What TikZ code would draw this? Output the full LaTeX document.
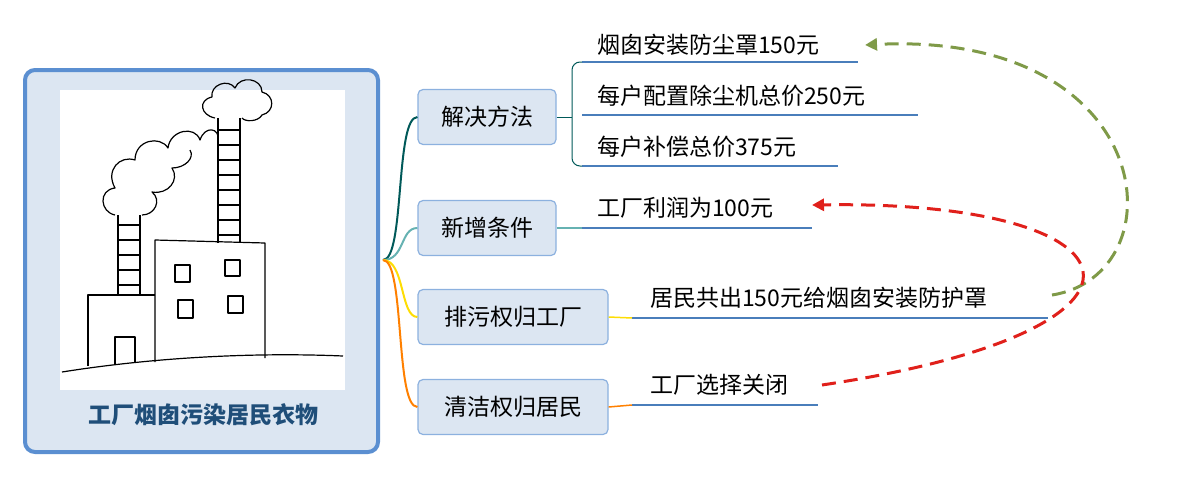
\documentclass[tikz,border=0pt]{standalone}
\usepackage{fontspec}
\setmainfont{Noto Sans CJK SC}
\usetikzlibrary{arrows.meta}
\definecolor{boxfill}{HTML}{DCE6F2}
\definecolor{boxline}{HTML}{5B8FD1}
\definecolor{subline}{HTML}{4A7EBB}
\definecolor{title}{HTML}{1F4E79}
\definecolor{dgreen}{HTML}{7F9A48}
\definecolor{dred}{HTML}{E0201B}
\tikzset{
 branch/.style={draw=boxline!70,fill=boxfill,rounded corners=5pt,line width=1.2pt,minimum height=55pt,font=\fontsize{23}{27}\selectfont},
 item/.style={font=\fontsize{23}{27}\selectfont,anchor=base west,inner sep=0pt},
 uline/.style={draw=subline,line width=2pt},
 sk/.style={line width=1.2pt,black,line join=round}
}
\begin{document}
\begin{tikzpicture}[x=1pt,y=-1pt]
\useasboundingbox (0,0) rectangle (1200,485);
\node[draw=boxline,fill=boxfill,line width=4pt,rounded corners=10pt,minimum width=353pt,minimum height=382pt] (main) at (201.5,261) {};
\fill[white] (60,90) rectangle (345,390);
% factory sketch
\draw[sk] (62,372) .. controls (150,358) and (250,352) .. (343,356);
\draw[sk] (88,366) -- (88,295) -- (155,295);
\draw[sk] (155,362) -- (155,240) -- (265,243) -- (265,358);
\draw[sk] (118,295) -- (118,215); \draw[sk] (140,295) -- (140,215);
\foreach \y in {225,240,255,270,285} \draw[sk] (118,\y) -- (140,\y);
\draw[sk] (218,243) -- (218,118); \draw[sk] (240,243) -- (240,118);
\foreach \y in {130,145,160,175,190,205,220,235} \draw[sk] (218,\y) -- (240,\y);
\draw[sk] (115,215) .. controls (100,212) and (98,190) .. (115,188) .. controls (105,170) and (120,155) .. (135,160) .. controls (135,140) and (160,135) .. (168,148) .. controls (170,130) and (195,125) .. (200,140) .. controls (205,125) and (220,128) .. (218,140);
\draw[sk] (142,215) .. controls (155,215) and (162,200) .. (152,192) .. controls (168,195) and (180,180) .. (172,168) .. controls (185,168) and (195,158) .. (190,150);
\draw[sk] (215,118) .. controls (200,115) and (198,100) .. (212,97) .. controls (210,85) and (228,78) .. (235,88) .. controls (240,75) and (262,78) .. (262,92) .. controls (275,95) and (275,112) .. (262,115) .. controls (258,122) and (245,122) .. (242,118);
\draw[sk] (175,265) rectangle (190,282); \draw[sk] (225,260) rectangle (240,276);
\draw[sk] (178,300) rectangle (193,318); \draw[sk] (228,296) rectangle (243,313);
\draw[sk] (115,365) -- (115,337) -- (135,337) -- (135,363);
\node[font=\fontsize{23}{27}\selectfont\bfseries,text=title] (ttl) at (203,415) {工厂烟囱污染居民衣物};
% branches
\node[branch,minimum width=138pt] (b1) at (487,117) {解决方法};
\node[branch,minimum width=138pt] (b2) at (487,228) {新增条件};
\node[branch,minimum width=190pt] (b3) at (513,317) {排污权归工厂};
\node[branch,minimum width=190pt] (b4) at (513,407) {清洁权归居民};
\coordinate (hub) at (383,260);
\draw[line width=2pt,teal!70!black] (hub) .. controls (405,260) and (395,117) .. (b1.west);
\draw[line width=2pt,teal!60] (hub) .. controls (405,260) and (400,228) .. (b2.west);
\draw[line width=2pt,yellow!80!orange] (hub) .. controls (405,260) and (400,317) .. (b3.west);
\draw[line width=2pt,orange] (hub) .. controls (405,260) and (395,407) .. (b4.west);
% items
\node[item] (t1) at (597,53) {烟囱安装防尘罩150元};
\node[item] (t2) at (597,104) {每户配置除尘机总价250元};
\node[item] (t3) at (597,155) {每户补偿总价375元};
\node[item] (t4) at (597,216) {工厂利润为100元};
\node[item] (t5) at (650,306) {居民共出150元给烟囱安装防护罩};
\node[item] (t6) at (650,393) {工厂选择关闭};
\draw[uline] (582,62) -- (858,62);
\draw[uline] (582,115) -- (918,115);
\draw[uline] (582,166) -- (838,166);
\draw[uline] (582,228) -- (812,228);
\draw[uline] (632,318) -- (1048,318);
\draw[uline] (632,405) -- (818,405);
\draw[line width=1pt,teal!70!black,rounded corners=8pt] (582,62) -- (572,62) -- (572,166) -- (582,166);
\draw[line width=1pt,teal!70!black] (b1.east) -- (572,117);
\draw[line width=1.5pt,teal!60] (b2.east) -- (582,228);
\draw[line width=1.5pt,yellow!80!orange] (b3.east) -- (632,318);
\draw[line width=1.5pt,orange] (b4.east) -- (632,405);
% dashed arrows
\coordinate (g0) at (1052,295); \coordinate (g1) at (865,45);
\coordinate (r0) at (822,385); \coordinate (r1) at (812,205);
\draw[dgreen,line width=3pt,dash pattern=on 14pt off 8pt,-{Triangle[length=12pt,width=12pt]}] (g0) .. controls (1180,275) and (1160,30) .. (g1);
\draw[dred,line width=3pt,dash pattern=on 14pt off 8pt,-{Triangle[length=12pt,width=12pt]}] (r0) .. controls (1190,330) and (1150,200) .. (r1);
\end{tikzpicture}
\end{document}
